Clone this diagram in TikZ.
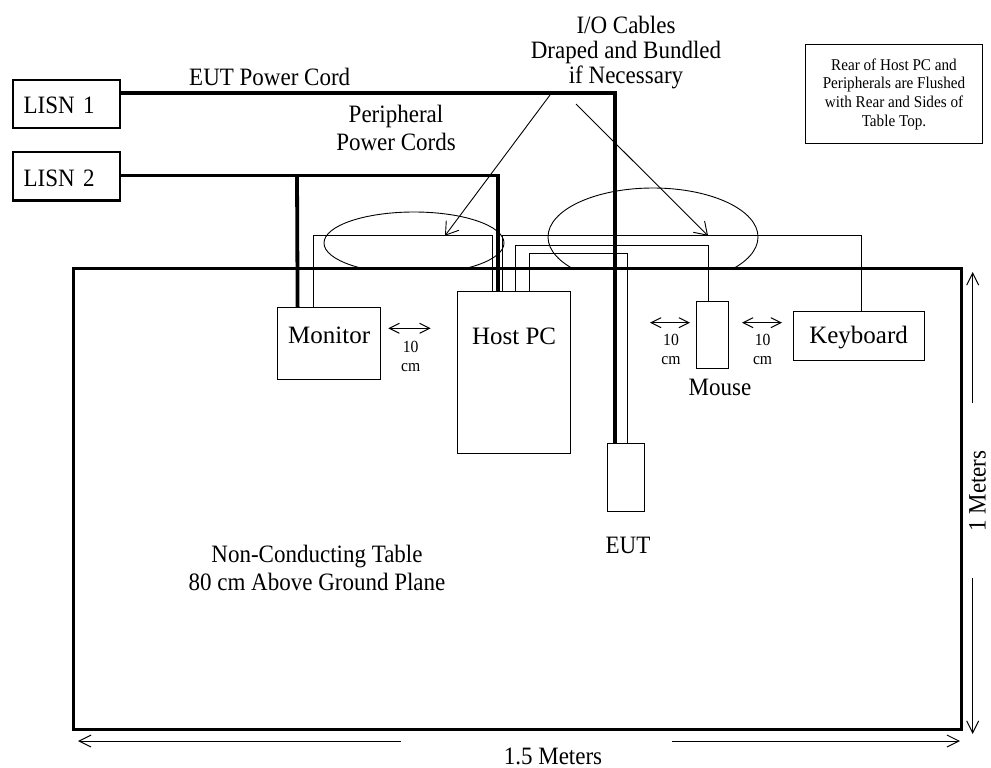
\documentclass[tikz,border=0pt]{standalone}
\usepackage{fontspec}
\setmainfont{Liberation Serif}
\newfontfamily\slimfont{Liberation Serif}[FakeStretch=0.92]
\usetikzlibrary{arrows.meta}

\tikzset{
  cord/.style={line width=3.8pt},
  cable/.style={line width=1pt},
  unit/.style={draw, line width=1.2pt, inner sep=0pt, anchor=north west,
    font=\fontsize{25}{28}\selectfont},
  lisn/.style={draw, line width=2.2pt, anchor=north west, inner xsep=10.5pt,
    inner ysep=0pt, text width=86pt, align=left,
    font=\slimfont\fontsize{25}{28}\selectfont},
  lbl/.style={inner sep=0pt, align=center, font=\slimfont\fontsize{25}{28}\selectfont},
  gap/.style={inner sep=0pt, align=center, anchor=north,
    font=\slimfont\fontsize{17}{19}\selectfont},
  dim/.style={line width=1pt, -{Straight Barb[length=12pt,width=12pt]}},
  spacing/.style={line width=1pt,
    {Straight Barb[length=10pt,width=10pt]}-{Straight Barb[length=10pt,width=10pt]}},
  callout/.style={line width=0.9pt, -{Straight Barb[length=12pt,width=16pt]}},
}

\begin{document}
\begin{tikzpicture}[x=1pt, y=-1pt]
  \useasboundingbox (0,0) rectangle (991,768);

  % table top and the units on it
  \node[draw, line width=3.2pt, minimum width=888pt, minimum height=461pt,
    inner sep=0pt, anchor=north west] (table) at (72,267) {};
  \node[lisn, text height=33.7pt, text depth=14.3pt] (lisn1) at (12,79) {LISN 1};
  \node[lisn, text height=34.7pt, text depth=13.6pt] (lisn2) at (12,151) {LISN 2};
  \node[unit, minimum width=103pt, text height=35.7pt, text depth=36.3pt] (monitor) at (277,307) {Monitor};
  \node[unit, minimum width=113pt, text height=53pt, text depth=109pt] (host) at (457,291) {Host PC};
  \node[unit, minimum width=31.5pt, minimum height=67pt] (mouse) at (696,301) {};
  \node[unit, minimum width=131pt, text height=32.6pt, text depth=16.7pt] (keyboard) at (792.5,310.7) {Keyboard};
  \node[unit, minimum width=37pt, minimum height=68pt] (eut) at (606.5,443) {};
  \node[draw, line width=1pt, inner sep=0pt, minimum width=177pt, minimum height=99pt,
    align=center, anchor=north west, font=\slimfont\fontsize{16.5}{18.7}\selectfont]
    (note) at (805,44) {Rear of Host PC and\\Peripherals are Flushed\\with Rear and Sides of\\Table Top.};

  % texts
  \node[lbl, anchor=base west] (cordlbl) at (189,85) {EUT Power Cord};
  \node[lbl] (perilbl) at (396,127.5) {Peripheral\\Power Cords};
  \node[lbl, font=\slimfont\fontsize{25}{25}\selectfont] (iolbl) at (626,53)
    {I/O Cables\\Draped and Bundled\\if Necessary};
  \node[lbl] (tablelbl) at (317,568.2) {Non-Conducting Table\\80 cm Above Ground Plane};
  \node[lbl, anchor=base] (mouselbl) at (720,395.7) {Mouse};
  \node[lbl, anchor=base] (eutlbl) at (628,553) {EUT};
  \node[lbl, anchor=base] (widthlbl) at (553,764) {1.5 Meters};
  \node[lbl, rotate=90, anchor=north] (depthlbl) at (969,491) {1 Meters};

  % power cords
  \coordinate (split) at (297,174.3);
  \draw[cord] ([yshift=11.3pt]lisn1.east) -| ([xshift=-10.5pt]eut.north);
  \draw[cord] ([yshift=0.85pt]lisn2.east) -| ([xshift=-16.5pt]host.north);
  \draw[cord] (split) -- ([xshift=-31.5pt]monitor.north);

  % i/o cables
  \coordinate (monrun) at (400,235.7);
  \coordinate (kbrun) at (780,235.7);
  \coordinate (mouserun) at (600,245.7);
  \coordinate (eutrun) at (580,253.3);
  \draw[cable] ([xshift=-15.5pt]monitor.north) |- (monrun) -| ([xshift=-21.8pt]host.north);
  \draw[cable] ([xshift=-11.5pt]host.north) |- (kbrun) -| ([xshift=3pt]keyboard.north);
  \draw[cable] ([xshift=1.5pt]host.north) |- (mouserun) -| ([xshift=-3.75pt]mouse.north);
  \draw[cable] ([xshift=14.9pt]host.north) |- (eutrun) -| ([xshift=1.6pt]eut.north);

  % bundles
  \begin{scope}
    \clip (0,0) rectangle (991,267);
    \draw[line width=0.9pt] (414,243) ellipse [x radius=90pt, y radius=31pt];
    \draw[line width=0.9pt] (653,237) ellipse [x radius=105pt, y radius=49pt];
  \end{scope}

  % callouts
  \coordinate (io1) at (550,95);
  \coordinate (io2) at (576,104);
  \coordinate (montip) at (445,235.7);
  \coordinate (kbtip) at (708,235.7);
  \draw[callout] (io1) -- (montip);
  \draw[callout] (io2) -- (kbtip);

  % 10 cm spacings
  \coordinate (m1) at (388.3,328.3);
  \coordinate (m2) at (430.7,328.3);
  \coordinate (k1) at (650,322.7);
  \coordinate (k2) at (690,322.7);
  \coordinate (k3) at (742,322.7);
  \coordinate (k4) at (782,322.7);
  \draw[spacing] (m1) -- (m2);
  \draw[spacing] (k1) -- (k2);
  \draw[spacing] (k3) -- (k4);
  \node[gap] (gap1) at (410.7,341) {10\\cm};
  \node[gap] (gap2) at (671,334) {10\\cm};
  \node[gap] (gap3) at (762.6,334) {10\\cm};

  % table size
  \coordinate (w1) at (401,741);
  \coordinate (w2) at (672,741);
  \coordinate (d1) at (972.7,403);
  \coordinate (d2) at (972.7,578);
  \draw[dim] (w1) -- (78,741);
  \draw[dim] (w2) -- (960,741);
  \draw[dim] (d1) -- (972.7,272);
  \draw[dim] (d2) -- (972.7,734);
\end{tikzpicture}
\end{document}
